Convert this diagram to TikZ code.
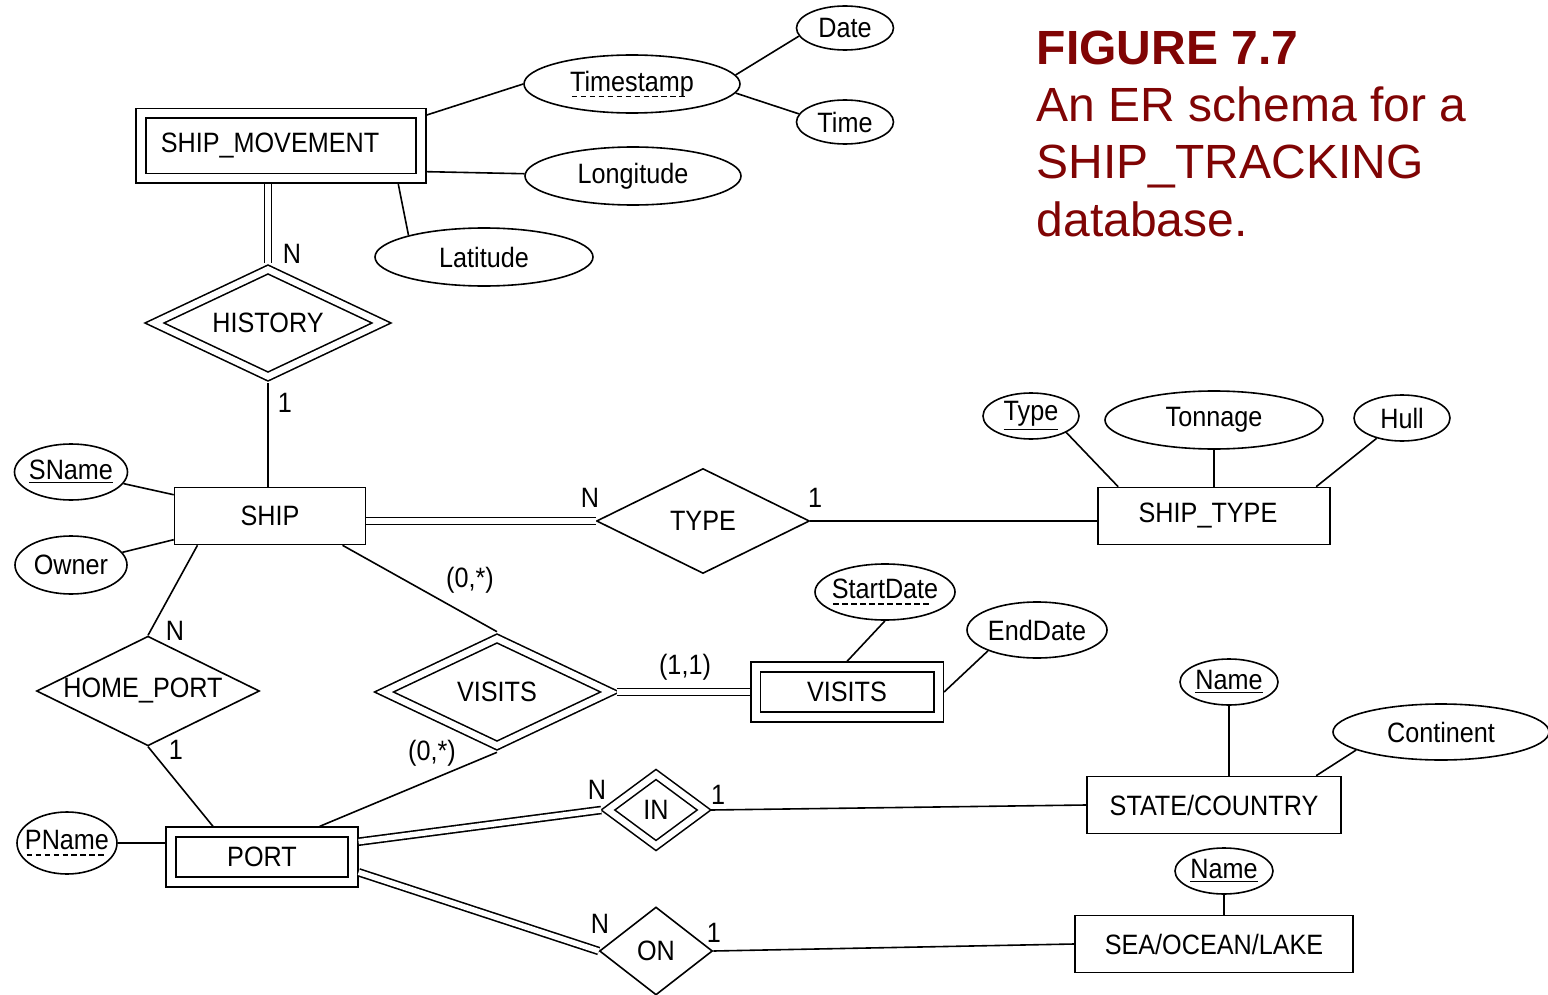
\documentclass[tikz,border=0pt]{standalone}
\usepackage{fontspec}
\setmainfont{Liberation Sans}[FakeStretch=0.9]
\newfontfamily\titlefont{Liberation Sans}
\usepackage{tikz}
\usetikzlibrary{shapes.geometric}
\definecolor{figred}{RGB}{128,4,4}
\newcommand{\dashul}[1]{\setbox0\hbox{#1}\leavevmode\rlap{\hbox to\wd0{\leaders\hbox to .32em{\hss\vrule height -2.2pt depth 3pt width .2em\hss}\hfill}}\box0}

\begin{document}
\begin{tikzpicture}[x=0.5pt,y=-0.5pt,line width=0.8pt,
                font=\fontsize{14}{16}\selectfont,
                ent/.style={draw,rectangle,inner sep=0pt,minimum height=28.5pt},
                weak/.style={ent,double,double distance=4pt,outer sep=2.8pt},
                rel/.style={draw,diamond,aspect=2,inner sep=0pt},
                idrel/.style={rel,double,double distance=3.2pt,outer sep=2.4pt},
                attr/.style={draw,ellipse,inner xsep=-8pt,inner ysep=-3pt},
                total/.style={double,double distance=2.7pt},
                lbl/.style={inner sep=0pt},
                title/.style={anchor=base west,inner sep=0pt,text=figred,
                        font=\titlefont\fontsize{24}{28}\selectfont}]
        \useasboundingbox (0,0) rectangle (1548,995);

        \node[weak,minimum width=140pt,minimum height=32.5pt] (sm) at (281,146) {SHIP\_MOVEMENT\kern11pt};
        \node[attr,minimum width=108pt,minimum height=29pt] (tstamp) at (632,84) {\dashul{Timestamp}};
        \node[attr,minimum width=48.5pt,minimum height=22pt] (date) at (845,28) {Date};
        \node[attr,minimum width=48.5pt,minimum height=22pt] (time) at (845,122) {Time};
        \node[attr,minimum width=108pt,minimum height=29pt] (longi) at (633,176) {Longitude};
        \node[attr,minimum width=109pt,minimum height=29pt] (lati) at (484,257) {Latitude};
        \node[idrel,minimum width=115.5pt,minimum height=55.5pt] (hist) at (268,323) {HISTORY};

        \node[ent,minimum width=95.5pt] (ship) at (270,516) {SHIP};
        \node[attr,minimum width=56.5pt,minimum height=28pt] (sname) at (71,472) {\underline{SName}};
        \node[attr,minimum width=56pt,minimum height=29pt] (owner) at (71,565) {Owner};
        \node[rel,minimum width=106.5pt,minimum height=52.5pt] (type) at (703,521) {TYPE};
        \node[ent,minimum width=116pt] (stype) at (1214,516) {SHIP\_TYPE\kern6pt};
        \node[attr,minimum width=48pt,minimum height=23pt] (tkey) at (1031,416) {\underline{Type}};
        \node[attr,minimum width=109pt,minimum height=29pt] (tonn) at (1214,420) {Tonnage};
        \node[attr,minimum width=48pt,minimum height=23pt] (hull) at (1402,418) {Hull};

        \node[rel,minimum width=111.5pt,minimum height=53pt] (hport) at (148,691) {HOME\_PORT\kern5pt};
        \node[idrel,minimum width=115pt,minimum height=55.5pt] (visr) at (497,692) {VISITS};
        \node[weak,minimum width=91.5pt,minimum height=25pt] (vise) at (847,692) {VISITS};
        \node[attr,minimum width=70pt,minimum height=28pt] (sdate) at (885,592) {\dashul{StartDate}};
        \node[attr,minimum width=70pt,minimum height=28pt] (edate) at (1037,630) {EndDate};

        \node[weak,minimum width=91pt,minimum height=25pt] (port) at (262,857) {PORT};
        \node[attr,minimum width=50pt,minimum height=31pt] (pname) at (67,843) {\dashul{PName}};
        \node[idrel,minimum width=50pt,minimum height=37.5pt] (inrel) at (656,810) {IN};
        \node[rel,minimum width=56.5pt,minimum height=44pt] (onrel) at (656,951) {ON};
        \node[ent,minimum width=127pt] (sc) at (1214,805) {STATE/COUNTRY};
        \node[attr,minimum width=49pt,minimum height=23pt] (scname) at (1229,682) {\underline{Name}};
        \node[attr,minimum width=108pt,minimum height=28pt] (cont) at (1441,732) {Continent};
        \node[ent,minimum width=139pt] (sea) at (1214,944) {SEA/OCEAN/LAKE};
        \node[attr,minimum width=49pt,minimum height=23pt] (seaname) at (1224,871) {\underline{Name}};

        \draw (sm.12) -- (tstamp.west);
        \draw (tstamp.5) -- (date.190);
        \draw (tstamp.-5) -- (time.170);
        \draw (sm.-10) -- (longi);
        \draw (sm.-18) -- (lati.164);
        \draw[total] (hist.north) -- (hist.north |- sm.south);
        \draw (hist.south) -- (hist.south |- ship.north);
        \draw (sname) -- (ship);
        \draw (owner) -- (ship);
        \draw[total] (ship.east |- type.west) -- (type.west);
        \draw (type.east) -- (type.east -| stype.west);
        \draw (stype.163) -- (tkey.-25);
        \draw (tonn) -- (stype);
        \draw (stype.16) -- (hull);
        \draw (ship.-158) -- (hport.north);
        \draw (hport.south) -- (port.148);
        \draw (ship.-22) -- (visr.north);
        \draw (visr.south) -- (port.28);
        \draw[total] (visr.east) -- (vise.west);
        \draw (vise.north) -- (sdate.south);
        \draw (vise.east) -- (edate.203);
        \draw (pname) -- (pname -| port.west);
        \draw[total] (port.9) -- (inrel.west);
        \draw[total] (port.-9) -- (onrel.west);
        \draw (inrel.east) -- (sc.west);
        \draw (onrel.east) -- (sea.west);
        \draw (scname) -- (scname |- sc.north);
        \draw (sc.16) -- (cont.192);
        \draw (seaname) -- (seaname |- sea.north);

        \node[lbl] (lHistN) at (292,254) {N};
        \node[lbl] (lHist1) at (285,403) {1};
        \node[lbl] (lTypeN) at (590,498) {N};
        \node[lbl] (lType1) at (815,498) {1};
        \node[lbl] (lHomeN) at (175,631) {N};
        \node[lbl] (lHome1) at (176,750) {1};
        \node[lbl] (lVisShip) at (470,580) {(0,*)};
        \node[lbl] (lVisPort) at (432,753) {(0,*)};
        \node[lbl] (lVisEnt) at (685,667) {(1,1)};
        \node[lbl] (lInN) at (597,790) {N};
        \node[lbl] (lIn1) at (718,795) {1};
        \node[lbl] (lOnN) at (600,924) {N};
        \node[lbl] (lOn1) at (714,933) {1};

        \node[title] (t1) at (1036,65) {\textbf{FIGURE 7.7}};
        \node[title] (t2) at (1036,122) {An ER schema for a};
        \node[title] (t3) at (1036,178) {SHIP\_TRACKING};
        \node[title] (t4) at (1036,236) {database.};
\end{tikzpicture}
\end{document}
